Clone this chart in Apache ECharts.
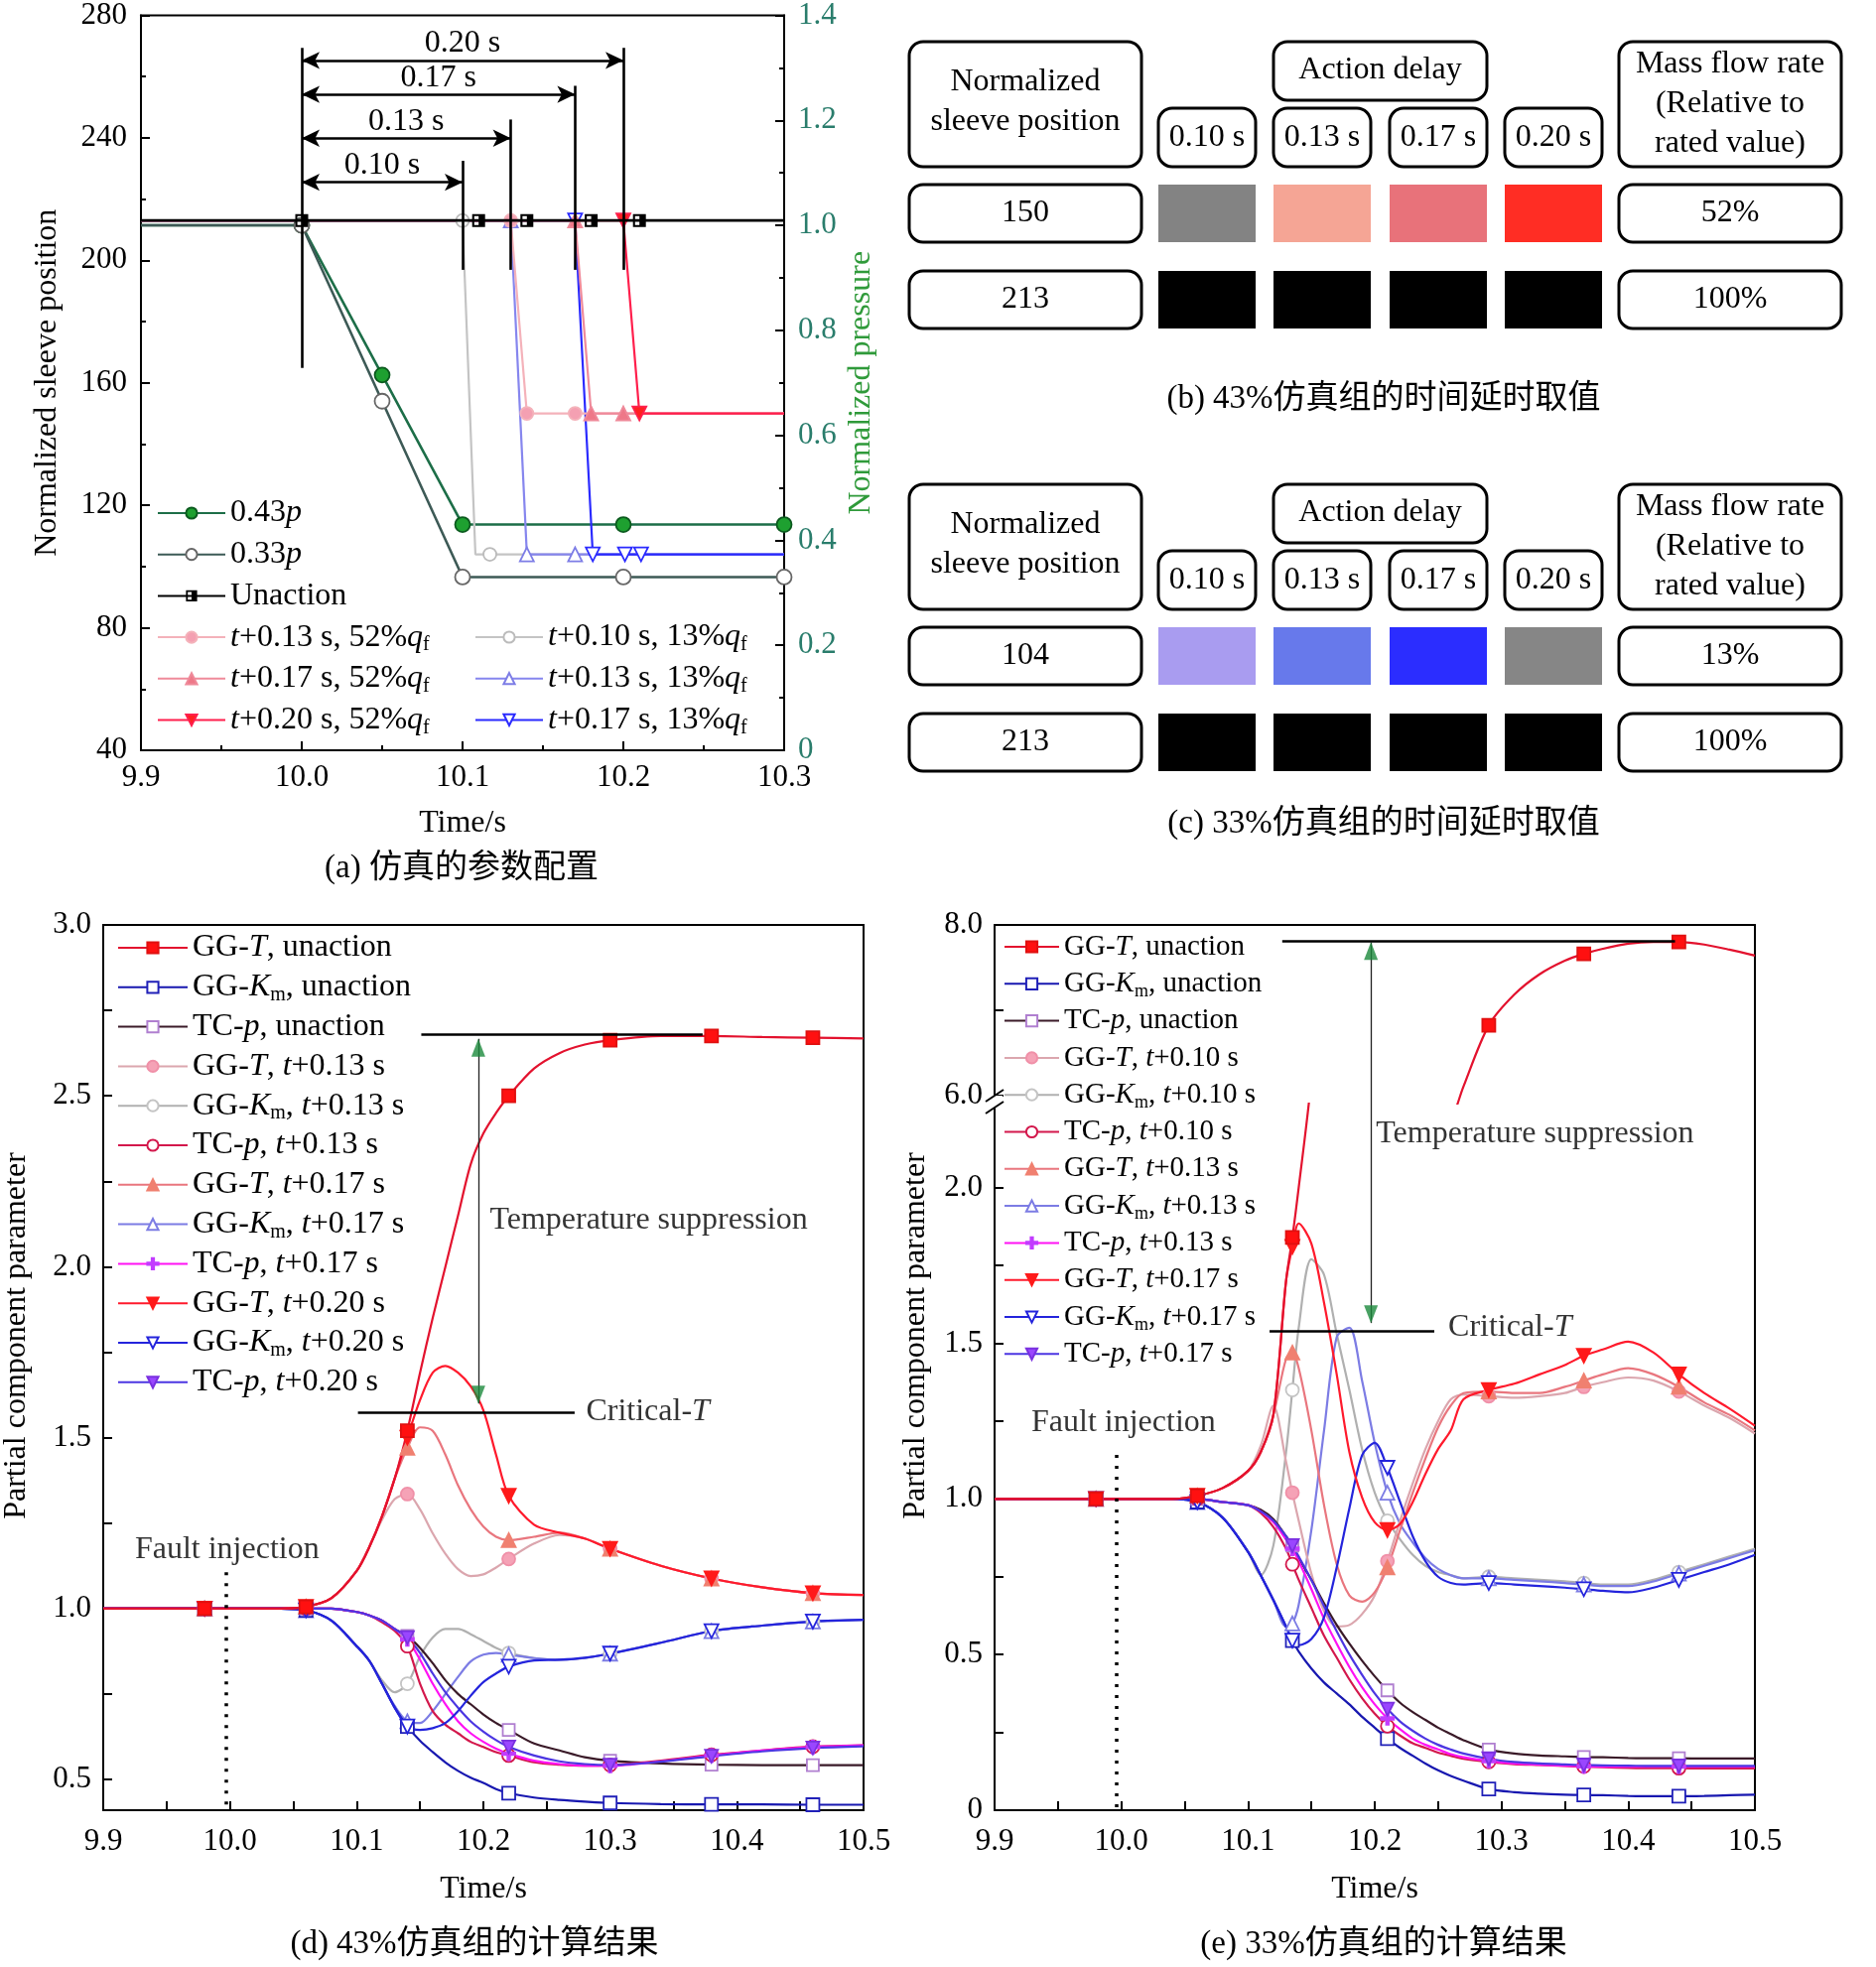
<!DOCTYPE html>
<html><head><meta charset="utf-8">
<script src="https://cdn.jsdelivr.net/npm/echarts@6/dist/echarts.min.js"></script>
<style>html,body{margin:0;padding:0;background:#fff;}.c{position:absolute;left:0;top:0;width:1890px;height:1982px;}</style>
</head><body>
<div id="ca" class="c"></div><div id="cb" class="c"></div><div id="cd" class="c"></div><div id="ce" class="c"></div>
<script>
const FONT = '"Liberation Serif","Times New Roman",serif';
const CAPF = '"Liberation Serif","Noto Sans CJK SC",serif';
const FS = 31;

// ================= Panel (a) data =================
const aPressTime = [9.9, 10.0, 10.05, 10.1, 10.2, 10.3];
const aP043 = [1, 1, 0.715, 0.43, 0.43, 0.43];
const aP033 = [1, 1, 0.665, 0.33, 0.33, 0.33];
const aUnactTime = [9.9, 10.0, 10.11, 10.14, 10.18, 10.21, 10.3];
const aUnactPos = [213, 213, 213, 213, 213, 213, 213];
const aUnactMarks = [10.0, 10.11, 10.14, 10.18, 10.21];
const a52_13_t = [9.9, 10.13, 10.14, 10.17, 10.3];
const a52_13_v = [213, 213, 150, 150, 150];
const a52_13_m = [10.13, 10.14, 10.17];
const a52_17_t = [9.9, 10.17, 10.18, 10.2, 10.3];
const a52_17_v = [213, 213, 150, 150, 150];
const a52_17_m = [10.17, 10.18, 10.2];
const a52_20_t = [9.9, 10.2, 10.21, 10.3];
const a52_20_v = [213, 213, 150, 150];
const a52_20_m = [10.2, 10.21];
const a13_10_t = [9.9, 10.1, 10.108, 10.117, 10.3];
const a13_10_v = [213, 213, 104, 104, 104];
const a13_10_m = [10.1, 10.117];
const a13_13_t = [9.9, 10.13, 10.14, 10.17, 10.3];
const a13_13_v = [213, 213, 104, 104, 104];
const a13_13_m = [10.13, 10.14, 10.17];
const a13_17_t = [9.9, 10.17, 10.181, 10.201, 10.211, 10.3];
const a13_17_v = [213, 213, 104, 104, 104, 104];
const a13_17_m = [10.17, 10.181, 10.201, 10.211];
const aPressMarks = [10.0, 10.05, 10.1, 10.2, 10.3];
const aDelays = [0.10, 0.13, 0.17, 0.20];
const aDelayLabels = ['0.10 s', '0.13 s', '0.17 s', '0.20 s'];
const aDimArrowY = [225.5, 239.9, 254.2, 265.3];
const aDimTopY = [232.5, 246, 257, 269.4];
const aDimBaseY = 196.9;
const aStartLine = [10.0, 164.9, 269.4];

// ================= Panel (b)/(c) data =================
const tblDelays = ['0.10 s', '0.13 s', '0.17 s', '0.20 s'];
const tblB_pos = ['150', '213'];
const tblB_flow = ['52%', '100%'];
const tblB_colors = [['#838383', '#f5a595', '#e8727a', '#ff2d24'], ['#000000', '#000000', '#000000', '#000000']];
const tblC_pos = ['104', '213'];
const tblC_flow = ['13%', '100%'];
const tblC_colors = [['#a99cf0', '#6779eb', '#2b2dff', '#868686'], ['#000000', '#000000', '#000000', '#000000']];

// ================= Panel (d) data =================
const dTime = [9.90, 9.98, 10.04, 10.06, 10.08, 10.10, 10.11, 10.12, 10.13, 10.14, 10.15, 10.16, 10.17, 10.18, 10.19, 10.20, 10.21, 10.22, 10.24, 10.26, 10.28, 10.30, 10.34, 10.38, 10.42, 10.46, 10.50];
const dMarkTimes = [9.98, 10.06, 10.14, 10.22, 10.30, 10.38, 10.46];
const dGGT_un = [1,1,1,1.005,1.03,1.11,1.18,1.27,1.38,1.52,1.69,1.85,2.00,2.15,2.30,2.39,2.45,2.50,2.58,2.625,2.65,2.663,2.675,2.675,2.672,2.67,2.668];
const dGGK_un = [1,1,1,0.995,0.965,0.89,0.847,0.78,0.71,0.655,0.613,0.58,0.55,0.525,0.505,0.49,0.472,0.46,0.447,0.44,0.435,0.431,0.428,0.427,0.427,0.426,0.426];
const dTCp_un = [1,1,1,1,1,0.99,0.98,0.965,0.94,0.92,0.885,0.84,0.79,0.75,0.72,0.69,0.665,0.645,0.605,0.585,0.565,0.555,0.547,0.543,0.542,0.542,0.542];
const dGGT_13 = [1,1,1,1.005,1.03,1.11,1.18,1.26,1.32,1.335,1.29,1.22,1.16,1.115,1.095,1.10,1.12,1.145,1.19,1.215,1.205,1.175,1.125,1.088,1.062,1.045,1.04];
const dGGK_13 = [1,1,1,0.995,0.965,0.89,0.847,0.79,0.755,0.78,0.86,0.915,0.94,0.94,0.925,0.905,0.885,0.87,0.855,0.85,0.855,0.868,0.90,0.934,0.95,0.962,0.967];
const dTCp_13 = [1,1,1,1,1,0.99,0.98,0.96,0.935,0.89,0.78,0.70,0.66,0.635,0.61,0.595,0.58,0.57,0.55,0.543,0.54,0.542,0.555,0.572,0.585,0.596,0.60];
const dGGT_17 = [1,1,1,1.005,1.03,1.11,1.18,1.27,1.38,1.47,1.53,1.52,1.45,1.36,1.29,1.24,1.21,1.20,1.21,1.222,1.205,1.175,1.125,1.088,1.062,1.045,1.04];
const dGGK_17 = [1,1,1,0.995,0.965,0.89,0.847,0.78,0.715,0.67,0.665,0.70,0.75,0.80,0.845,0.865,0.87,0.865,0.855,0.85,0.855,0.868,0.90,0.934,0.95,0.962,0.967];
const dTCp_17 = [1,1,1,1,1,0.99,0.98,0.965,0.94,0.91,0.85,0.78,0.72,0.67,0.635,0.61,0.59,0.575,0.555,0.545,0.54,0.54,0.553,0.57,0.585,0.595,0.60];
const dGGT_20 = [1,1,1,1.005,1.03,1.11,1.18,1.27,1.38,1.50,1.61,1.69,1.71,1.69,1.65,1.58,1.45,1.33,1.245,1.222,1.205,1.175,1.125,1.088,1.062,1.045,1.04];
const dGGK_20 = [1,1,1,0.995,0.965,0.89,0.847,0.78,0.71,0.655,0.645,0.65,0.665,0.70,0.745,0.785,0.81,0.83,0.848,0.85,0.856,0.868,0.90,0.934,0.95,0.962,0.967];
const dTCp_20 = [1,1,1,1,1,0.99,0.98,0.965,0.94,0.915,0.87,0.81,0.755,0.71,0.67,0.64,0.615,0.595,0.57,0.553,0.545,0.542,0.552,0.568,0.582,0.592,0.597];
const dYLabels = [0.5, 1.0, 1.5, 2.0, 2.5, 3.0];
const dYTicks = [0.5, 0.75, 1.0, 1.25, 1.5, 1.75, 2.0, 2.25, 2.5, 2.75, 3.0];

// ================= Panel (e) data =================
const eTime = [9.90, 9.98, 10.04, 10.06, 10.08, 10.10, 10.11, 10.12, 10.13, 10.135, 10.14, 10.15, 10.16, 10.17, 10.18, 10.19, 10.20, 10.21, 10.22, 10.23, 10.24, 10.25, 10.26, 10.27, 10.29, 10.31, 10.33, 10.35, 10.365, 10.38, 10.40, 10.42, 10.44, 10.46, 10.48, 10.50];
const eMarkTimes = [9.98, 10.06, 10.135, 10.21, 10.29, 10.365, 10.44];
const eGGT_un = [1,1,1,1.01,1.035,1.09,1.15,1.27,1.70,1.84,2.0,2.35,2.9,3.4,3.85,4.25,4.6,4.9,5.1,5.3,5.45,5.58,5.70,6.10,6.82,7.18,7.42,7.58,7.66,7.72,7.78,7.80,7.80,7.77,7.71,7.64];
const eGGK_un = [1,1,1,0.99,0.94,0.83,0.755,0.675,0.59,0.545,0.51,0.455,0.41,0.375,0.34,0.30,0.265,0.23,0.20,0.175,0.15,0.128,0.11,0.095,0.068,0.058,0.053,0.05,0.049,0.048,0.046,0.045,0.045,0.046,0.048,0.05];
const eTCp_un = [1,1,1,1,0.99,0.98,0.965,0.935,0.88,0.85,0.81,0.74,0.665,0.595,0.535,0.48,0.43,0.385,0.345,0.315,0.29,0.265,0.245,0.225,0.195,0.182,0.176,0.173,0.171,0.17,0.168,0.167,0.167,0.166,0.166,0.166];
const eGGT_10 = [1,1,1,1.01,1.035,1.09,1.17,1.30,1.12,1.02,0.93,0.76,0.64,0.59,0.595,0.63,0.69,0.80,0.93,1.05,1.16,1.25,1.32,1.335,1.33,1.325,1.33,1.34,1.36,1.375,1.39,1.38,1.345,1.30,1.26,1.21];
const eGGK_10 = [1,1,1,0.99,0.94,0.83,0.755,0.85,1.15,1.35,1.55,1.77,1.72,1.53,1.35,1.16,1.02,0.93,0.87,0.82,0.785,0.765,0.755,0.745,0.75,0.745,0.74,0.735,0.73,0.725,0.725,0.74,0.765,0.79,0.815,0.84];
const eTCp_10 = [1,1,1,1,0.99,0.98,0.955,0.91,0.84,0.79,0.74,0.65,0.56,0.49,0.42,0.36,0.31,0.27,0.24,0.215,0.20,0.185,0.175,0.165,0.155,0.148,0.145,0.142,0.14,0.138,0.136,0.135,0.135,0.134,0.134,0.134];
const eGGT_13 = [1,1,1,1.01,1.035,1.09,1.15,1.27,1.45,1.47,1.42,1.22,0.98,0.79,0.69,0.67,0.70,0.78,0.90,1.02,1.13,1.23,1.30,1.34,1.345,1.34,1.34,1.36,1.38,1.40,1.42,1.40,1.36,1.31,1.27,1.22];
const eGGK_13 = [1,1,1,0.99,0.94,0.83,0.755,0.675,0.59,0.60,0.66,0.90,1.22,1.52,1.55,1.38,1.18,1.02,0.92,0.86,0.81,0.775,0.755,0.745,0.745,0.74,0.735,0.73,0.725,0.72,0.72,0.735,0.76,0.785,0.81,0.835];
const eTCp_13 = [1,1,1,1,0.99,0.98,0.96,0.925,0.87,0.84,0.80,0.71,0.615,0.535,0.46,0.395,0.34,0.295,0.26,0.23,0.21,0.195,0.18,0.17,0.158,0.15,0.146,0.143,0.141,0.14,0.14,0.14,0.14,0.14,0.14,0.14];
const eGGT_17 = [1,1,1,1.01,1.035,1.09,1.15,1.27,1.70,1.81,1.885,1.82,1.63,1.40,1.15,1.005,0.925,0.90,0.92,0.99,1.08,1.16,1.22,1.32,1.35,1.37,1.40,1.43,1.46,1.48,1.505,1.47,1.40,1.34,1.29,1.235];
const eGGK_17 = [1,1,1,0.99,0.94,0.83,0.755,0.675,0.59,0.545,0.53,0.55,0.62,0.78,0.97,1.14,1.18,1.10,0.99,0.88,0.80,0.75,0.73,0.725,0.73,0.725,0.72,0.715,0.71,0.705,0.70,0.715,0.74,0.765,0.79,0.82];
const eTCp_17 = [1,1,1,1,0.99,0.98,0.96,0.93,0.88,0.85,0.815,0.74,0.655,0.575,0.50,0.435,0.375,0.325,0.285,0.255,0.23,0.21,0.195,0.182,0.165,0.155,0.15,0.147,0.145,0.144,0.143,0.142,0.142,0.142,0.142,0.142];
const eUpperLabels = [6.0, 8.0];
const eUpperTicks = [6.0, 7.0, 8.0];
const eLowerLabels = [0, 0.5, 1.0, 1.5, 2.0];
const eLowerTicks = [0, 0.25, 0.5, 0.75, 1.0, 1.25, 1.5, 1.75, 2.0];

// ================= helpers =================
const DOWN = 'path://M0,0L10,0L5,9Z';
const PLUS = 'path://M4,0H6V4H10V6H6V10H4V6H0V4H4Z';
const HALFSQ = 'path://M0,0H10V10H0Z M1.6,1.6V8.4H5V1.6Z';
function near(list, x) { return list.some(m => Math.abs(m - x) < 1e-6); }
function pairs(t, v) { return t.map((x, i) => [x, v[i]]); }
function richName(n) {
  return n.replace('Km', '{i|K}{sub|m}').replace(/-T\b/, '-{i|T}').replace(/-p\b/, '-{i|p}')
    .replace(/(^|\s)t\+/, '$1{i|t}+').replace('qf', '{i|q}{sub|f}').replace(/(\d)p$/, '$1{i|p}');
}
function richStyles(fs, lh) {
  return {
    i: { fontFamily: FONT, fontSize: fs, lineHeight: lh, fontStyle: 'italic', color: '#000' },
    sub: { fontFamily: FONT, fontSize: Math.round(fs * 0.62), lineHeight: 20, verticalAlign: 'bottom', color: '#000' }
  };
}
function legendCfg(names, left, top, itemW, fs, lh, gap) {
  return {
    data: names, orient: 'vertical', left, top, itemWidth: itemW, itemHeight: 14, itemGap: gap,
    selectedMode: false, formatter: n => richName(n), padding: 0,
    textStyle: { fontFamily: FONT, fontSize: fs, lineHeight: lh, color: '#000', rich: richStyles(fs, lh) }
  };
}
function lineSer(name, data, marks, st, extra) {
  const size = st.size || 14;
  return Object.assign({
    name, type: 'line', data, color: st.color,
    symbol: st.sym, symbolKeepAspect: false,
    symbolSize: (val) => {
      if (!near(marks, val[0])) return 0;
      if (st.vmin !== undefined && val[1] < st.vmin) return 0;
      if (st.vmax !== undefined && val[1] > st.vmax) return 0;
      return size;
    },
    showSymbol: true, showAllSymbol: true,
    lineStyle: { color: st.color, width: st.w || 2.2 },
    itemStyle: { color: st.fill || '#fff', borderColor: st.border || st.color, borderWidth: st.bw === undefined ? 1.8 : st.bw },
    smooth: st.smooth || false, animation: false, silent: true, clip: true, z: st.z || 3
  }, extra || {});
}
function axisBase() {
  return {
    axisLine: { show: true, onZero: false, lineStyle: { color: '#000', width: 2 } },
    axisTick: { show: true, inside: true, length: 9, lineStyle: { color: '#000', width: 2 } },
    splitLine: { show: false },
    axisLabel: { fontFamily: FONT, fontSize: FS, color: '#000' },
    nameTextStyle: { fontFamily: FONT, fontSize: 32, color: '#000' }
  };
}
function segs(list) { return list.map(s => [{ coord: [s[0], s[1]] }, { coord: [s[2], s[3]] }]); }
function gText(text, x, y, rot, fs, font) {
  return { type: 'text', x, y, rotation: rot || 0, silent: true,
    style: { text, fontFamily: font || FONT, fontSize: fs || 32, fill: '#000', align: 'center', verticalAlign: 'middle' } };
}

// ================= Chart (a) =================
const aNames1 = ['0.43p', '0.33p', 'Unaction', 't+0.13 s, 52%qf', 't+0.17 s, 52%qf', 't+0.20 s, 52%qf'];
const aNames2 = ['t+0.10 s, 13%qf', 't+0.13 s, 13%qf', 't+0.17 s, 13%qf'];
const chartA = echarts.init(document.getElementById('ca'));
const dimArrows = aDelays.map((d, i) => [
  { coord: [10.0, aDimArrowY[i]], label: { show: true, formatter: aDelayLabels[i], position: 'insideMiddleTop', distance: 1, fontFamily: FONT, fontSize: 32, color: '#000' } },
  { coord: [10.0 + d, aDimArrowY[i]] }
]);
const dimVerticals = [[aStartLine[0], aStartLine[1], aStartLine[0], aStartLine[2]]]
  .concat(aDelays.map((d, i) => [10.0 + d, aDimBaseY, 10.0 + d, aDimTopY[i]]));
chartA.setOption({
  animation: false,
  grid: { left: 142, top: 15, width: 648, height: 741, show: true, borderColor: '#000', borderWidth: 2, backgroundColor: 'transparent' },
  xAxis: Object.assign(axisBase(), {
    type: 'value', min: 9.9, max: 10.3, interval: 0.1, name: 'Time/s', nameLocation: 'middle', nameGap: 58,
    minorTick: { show: true, splitNumber: 2, length: 5, lineStyle: { color: '#000', width: 2 } },
    axisLabel: { fontFamily: FONT, fontSize: FS, color: '#000', margin: 12, formatter: v => v.toFixed(1) }
  }),
  yAxis: [
    Object.assign(axisBase(), {
      type: 'value', min: 40, max: 280, interval: 40, name: 'Normalized sleeve position', nameLocation: 'middle', nameGap: 78,
      minorTick: { show: true, splitNumber: 2, length: 5, lineStyle: { color: '#000', width: 2 } },
      axisLabel: { fontFamily: FONT, fontSize: FS, color: '#000', margin: 14 }
    }),
    Object.assign(axisBase(), {
      type: 'value', position: 'right', min: 0, max: 1.4, interval: 0.2, name: 'Normalized pressure', nameLocation: 'middle', nameGap: 62, nameRotate: 90,
      nameTextStyle: { fontFamily: FONT, fontSize: 32, color: '#2f9a3a' },
      minorTick: { show: true, splitNumber: 2, length: 5, lineStyle: { color: '#000', width: 2 } },
      axisLabel: { fontFamily: FONT, fontSize: FS, color: '#2a7d6c', margin: 14, formatter: v => v === 0 ? '0' : v.toFixed(1) }
    })
  ],
  legend: [legendCfg(aNames1, 158, 499, 68, 32, 36, 5.7), legendCfg(aNames2, 478, 624, 68, 32, 36, 5.7)],
  graphic: [gText('(a) 仿真的参数配置', 465, 875, 0, 33, CAPF)],
  series: [
    lineSer('0.43p', pairs(aPressTime, aP043), aPressMarks, { color: '#1d6e48', fill: '#1ea030', border: '#0b5a1e', sym: 'circle', size: 15, w: 2.6 }, { yAxisIndex: 1 }),
    lineSer('0.33p', pairs(aPressTime, aP033), aPressMarks, { color: '#3d5a56', fill: '#ffffff', border: '#666', sym: 'circle', size: 15, w: 2.6 }, { yAxisIndex: 1 }),
    lineSer('t+0.10 s, 13%qf', pairs(a13_10_t, a13_10_v), a13_10_m, { color: '#c4c4c4', fill: '#fff', border: '#bbbbbb', sym: 'circle', size: 13 }),
    lineSer('t+0.13 s, 13%qf', pairs(a13_13_t, a13_13_v), a13_13_m, { color: '#8686ee', fill: '#fff', border: '#7d7de6', sym: 'triangle', size: 14 }),
    lineSer('t+0.17 s, 13%qf', pairs(a13_17_t, a13_17_v), a13_17_m, { color: '#2a2aff', fill: '#fff', border: '#2a2aff', sym: DOWN, size: 14 }),
    lineSer('t+0.13 s, 52%qf', pairs(a52_13_t, a52_13_v), a52_13_m, { color: '#f4b2ba', fill: '#f4a0b2', sym: 'circle', size: 13 }),
    lineSer('t+0.17 s, 52%qf', pairs(a52_17_t, a52_17_v), a52_17_m, { color: '#ef8a9a', fill: '#ee7888', sym: 'triangle', size: 14 }),
    lineSer('t+0.20 s, 52%qf', pairs(a52_20_t, a52_20_v), a52_20_m, { color: '#ff1f4c', fill: '#ff2020', sym: DOWN, size: 14 }),
    lineSer('Unaction', pairs(aUnactTime, aUnactPos), aUnactMarks, { color: '#000000', fill: '#000000', border: '#000', bw: 0, sym: HALFSQ, size: 13, w: 2.8, z: 4 }),
    { type: 'line', data: [], silent: true, z: 6,
      markLine: { silent: true, animation: false, symbol: ['arrow', 'arrow'], symbolSize: [13, 18], label: { show: false },
        lineStyle: { color: '#000', width: 2.6, type: 'solid' }, data: dimArrows } },
    { type: 'line', data: [], silent: true, z: 6,
      markLine: { silent: true, animation: false, symbol: 'none', label: { show: false },
        lineStyle: { color: '#000', width: 2.6, type: 'solid' }, data: segs(dimVerticals) } }
  ]
});

// ================= Chart (b)/(c) tables =================
const colX = [[916, 1150], [1167, 1265], [1283, 1381], [1400, 1498], [1516, 1614], [1631, 1855]];
function tableGraphics(y0, posVals, flowVals, colors) {
  const g = [];
  const box = (x1, x2, y1, y2) => g.push({ type: 'rect', silent: true, shape: { x: x1, y: y1, width: x2 - x1, height: y2 - y1, r: 14 },
    style: { fill: 'transparent', stroke: '#000', lineWidth: 3 } });
  const txt = (t, x, y) => g.push({ type: 'text', x, y, silent: true,
    style: { text: t, fontFamily: FONT, fontSize: 32, lineHeight: 40, fill: '#000', align: 'center', verticalAlign: 'middle' } });
  const cx = c => (colX[c][0] + colX[c][1]) / 2;
  box(colX[0][0], colX[0][1], y0, y0 + 126); txt('Normalized\nsleeve position', cx(0), y0 + 61);
  box(colX[5][0], colX[5][1], y0, y0 + 126); txt('Mass flow rate\n(Relative to\nrated value)', cx(5), y0 + 63);
  box(colX[2][0], colX[3][1], y0, y0 + 59); txt('Action delay', (colX[2][0] + colX[3][1]) / 2, y0 + 29);
  tblDelays.forEach((d, i) => { box(colX[i + 1][0], colX[i + 1][1], y0 + 67, y0 + 126); txt(d, cx(i + 1), y0 + 97); });
  const rows = [[y0 + 144, y0 + 202], [y0 + 231, y0 + 289]];
  rows.forEach((r, ri) => {
    box(colX[0][0], colX[0][1], r[0], r[1]); txt(posVals[ri], cx(0), (r[0] + r[1]) / 2);
    box(colX[5][0], colX[5][1], r[0], r[1]); txt(flowVals[ri], cx(5), (r[0] + r[1]) / 2);
    colors[ri].forEach((c, ci) => g.push({ type: 'rect', silent: true,
      shape: { x: colX[ci + 1][0], y: r[0], width: colX[ci + 1][1] - colX[ci + 1][0], height: r[1] - r[0] }, style: { fill: c } }));
  });
  return g;
}
const chartB = echarts.init(document.getElementById('cb'));
chartB.setOption({
  animation: false,
  graphic: tableGraphics(42, tblB_pos, tblB_flow, tblB_colors)
    .concat(tableGraphics(488, tblC_pos, tblC_flow, tblC_colors))
    .concat([gText('(b) 43%仿真组的时间延时取值', 1394, 402, 0, 33, CAPF), gText('(c) 33%仿真组的时间延时取值', 1394, 830, 0, 33, CAPF)])
});

// ================= series styles for (d) / (e) =================
const stGGT_un = { color: '#e3122e', fill: '#ff1010', border: '#e01010', sym: 'rect', size: 13 };
const stGGK_un = { color: '#1818b0', fill: '#fff', border: '#2020b8', sym: 'rect', size: 13 };
const stTCp_un = { color: '#3a1a28', fill: '#fff', border: '#b07fd0', sym: 'rect', size: 12 };
const stA_GGT = { color: '#dba6ae', fill: '#f5a2b6', border: '#f090a8', sym: 'circle', size: 13 };
const stA_GGK = { color: '#b0b0b0', fill: '#fff', border: '#c4c4c4', sym: 'circle', size: 13 };
const stA_TCp = { color: '#d3184c', fill: '#fff', border: '#d3184c', sym: 'circle', size: 13 };
const stB_GGT = { color: '#e9767e', fill: '#f08070', border: '#f08070', sym: 'triangle', size: 14 };
const stB_GGK = { color: '#7c7ce4', fill: '#fff', border: '#7c7ce4', sym: 'triangle', size: 14 };
const stB_TCp = { color: '#ff12f4', fill: '#c23cff', border: '#c23cff', sym: PLUS, size: 13 };
const stC_GGT = { color: '#ff1a2c', fill: '#ff1a1a', border: '#ff1a1a', sym: DOWN, size: 14 };
const stC_GGK = { color: '#2424dc', fill: '#fff', border: '#2424dc', sym: DOWN, size: 14 };
const stC_TCp = { color: '#4c36e2', fill: '#9a46ff', border: '#7a30e0', sym: DOWN, size: 13 };
function sm(st, extra) { return Object.assign({ smooth: 0.3 }, st, extra || {}); }

// ================= Chart (d) =================
const dNames = ['GG-T, unaction', 'GG-Km, unaction', 'TC-p, unaction', 'GG-T, t+0.13 s', 'GG-Km, t+0.13 s', 'TC-p, t+0.13 s',
  'GG-T, t+0.17 s', 'GG-Km, t+0.17 s', 'TC-p, t+0.17 s', 'GG-T, t+0.20 s', 'GG-Km, t+0.20 s', 'TC-p, t+0.20 s'];
const dVals = [dGGT_un, dGGK_un, dTCp_un, dGGT_13, dGGK_13, dTCp_13, dGGT_17, dGGK_17, dTCp_17, dGGT_20, dGGK_20, dTCp_20];
const dStyles = [stGGT_un, stGGK_un, stTCp_un, stA_GGT, stA_GGK, stA_TCp, stB_GGT, stB_GGK, stB_TCp, stC_GGT, stC_GGK, stC_TCp];
const dDrawOrder = [4, 3, 7, 6, 1, 2, 5, 8, 11, 10, 9, 0];
const dSuppress = [10.151, 2.681, 10.373, 2.681];
const dCritical = [10.101, 1.575, 10.272, 1.575];
const dArrow = [10.196, 2.667, 10.196, 1.60];
const dFault = [9.997, 1.106, 9.997, 0.41];
const dTexts = [[10.205, 2.135, 'Temperature suppression'], [10.281, 1.575, 'Critical-{i|T}'], [9.925, 1.172, 'Fault injection']];
const chartD = echarts.init(document.getElementById('cd'));
chartD.setOption({
  animation: false,
  grid: { left: 104, top: 932, width: 766, height: 892, show: true, borderColor: '#000', borderWidth: 2, backgroundColor: 'transparent' },
  xAxis: Object.assign(axisBase(), {
    type: 'value', min: 9.9, max: 10.5, interval: 0.1, name: 'Time/s', nameLocation: 'middle', nameGap: 64,
    minorTick: { show: true, splitNumber: 2, length: 9, lineStyle: { color: '#000', width: 2 } },
    axisLabel: { fontFamily: FONT, fontSize: FS, color: '#000', margin: 16, formatter: v => v.toFixed(1) }
  }),
  yAxis: Object.assign(axisBase(), {
    type: 'value', min: 0.41, max: 3.0,
    axisTick: { show: true, inside: true, length: 9, customValues: dYTicks, lineStyle: { color: '#000', width: 2 } },
    axisLabel: { fontFamily: FONT, fontSize: FS, color: '#000', margin: 12, customValues: dYLabels, formatter: v => v.toFixed(1) }
  }),
  legend: legendCfg(dNames, 118, 937, 70, 32, 36, 3.8),
  graphic: [gText('Partial component parameter', 17, 1346, Math.PI / 2, 32), gText('(d) 43%仿真组的计算结果', 478, 1959, 0, 33, CAPF)],
  series: dDrawOrder.map(k => lineSer(dNames[k], pairs(dTime, dVals[k]), dMarkTimes, sm(dStyles[k]))).concat([
    { type: 'line', data: [], silent: true, z: 7,
      markLine: { silent: true, animation: false, symbol: 'none', label: { show: false }, lineStyle: { color: '#000', width: 2.6, type: 'solid' },
        data: segs([dSuppress, dCritical]) } },
    { type: 'line', data: [], silent: true, z: 7,
      markLine: { silent: true, animation: false, symbol: 'none', label: { show: false }, lineStyle: { color: '#222', width: 1.3, type: 'solid' },
        data: segs([dArrow]) } },
    { type: 'line', data: [], silent: true, z: 7,
      markLine: { silent: true, animation: false, symbol: 'none', label: { show: false }, lineStyle: { color: '#000', width: 3.5, type: [3, 8] },
        data: segs([dFault]) } },
    { type: 'scatter', silent: true, z: 8, symbolSize: [14, 18], itemStyle: { color: '#1c8a3c' },
      data: [{ value: [dArrow[0], dArrow[1]], symbol: 'triangle', symbolOffset: [0, 9] }, { value: [dArrow[2], dArrow[3]], symbol: DOWN, symbolOffset: [0, -9] }] },
    { type: 'scatter', silent: true, z: 8, symbolSize: 0,
      data: dTexts.map(t => ({ value: [t[0], t[1]], label: { show: true, position: 'right', distance: 0, formatter: t[2],
        fontFamily: FONT, fontSize: 32, color: '#000', rich: richStyles(32, 36) } })) }
  ])
});

// ================= Chart (e) =================
const eNames = ['GG-T, unaction', 'GG-Km, unaction', 'TC-p, unaction', 'GG-T, t+0.10 s', 'GG-Km, t+0.10 s', 'TC-p, t+0.10 s',
  'GG-T, t+0.13 s', 'GG-Km, t+0.13 s', 'TC-p, t+0.13 s', 'GG-T, t+0.17 s', 'GG-Km, t+0.17 s', 'TC-p, t+0.17 s'];
const eVals = [eGGT_un, eGGK_un, eTCp_un, eGGT_10, eGGK_10, eTCp_10, eGGT_13, eGGK_13, eTCp_13, eGGT_17, eGGK_17, eTCp_17];
const eStyles = [stGGT_un, stGGK_un, stTCp_un, stA_GGT, stA_GGK, stA_TCp, stB_GGT, stB_GGK, stB_TCp, stC_GGT, stC_GGK, stC_TCp];
const eDrawOrder = [4, 7, 3, 6, 1, 2, 5, 8, 11, 10, 9, 0];
const eSuppressTop = [10.127, 7.81, 10.437, 7.81];
const eArrowUpper = [10.197, 7.80, 10.197, 5.9];
const eArrowLower = [10.197, 2.27, 10.197, 1.565];
const eCritical = [10.117, 1.54, 10.247, 1.54];
const eFault = [9.996, 1.141, 9.996, 0.0];
const eTexts = [[10.201, 2.173, 'Temperature suppression'], [10.258, 1.55, 'Critical-{i|T}'], [9.929, 1.246, 'Fault injection']];
const chartE = echarts.init(document.getElementById('ce'));
const eLower = { xAxisIndex: 1, yAxisIndex: 2 };
chartE.setOption({
  animation: false,
  grid: [{ left: 1002, top: 932, width: 766, height: 180 }, { left: 1002, top: 1112, width: 766, height: 712 }],
  xAxis: [
    Object.assign(axisBase(), { gridIndex: 0, type: 'value', position: 'top', min: 9.9, max: 10.5, interval: 0.1,
      axisTick: { show: false }, axisLabel: { show: false } }),
    Object.assign(axisBase(), { gridIndex: 1, type: 'value', min: 9.9, max: 10.5, interval: 0.1, name: 'Time/s', nameLocation: 'middle', nameGap: 64,
      minorTick: { show: true, splitNumber: 2, length: 9, lineStyle: { color: '#000', width: 2 } },
      axisLabel: { fontFamily: FONT, fontSize: FS, color: '#000', margin: 16, formatter: v => v.toFixed(1) } })
  ],
  yAxis: [
    Object.assign(axisBase(), { gridIndex: 0, type: 'value', min: 5.9, max: 8.0,
      axisTick: { show: true, inside: true, length: 9, customValues: eUpperTicks, lineStyle: { color: '#000', width: 2 } },
      axisLabel: { fontFamily: FONT, fontSize: FS, color: '#000', margin: 12, customValues: eUpperLabels, formatter: v => v.toFixed(1) } }),
    Object.assign(axisBase(), { gridIndex: 0, type: 'value', position: 'right', min: 5.9, max: 8.0, axisTick: { show: false }, axisLabel: { show: false } }),
    Object.assign(axisBase(), { gridIndex: 1, type: 'value', min: 0, max: 2.27,
      axisTick: { show: true, inside: true, length: 9, customValues: eLowerTicks, lineStyle: { color: '#000', width: 2 } },
      axisLabel: { fontFamily: FONT, fontSize: FS, color: '#000', margin: 12, customValues: eLowerLabels, formatter: v => v === 0 ? '0' : v.toFixed(1) } }),
    Object.assign(axisBase(), { gridIndex: 1, type: 'value', position: 'right', min: 0, max: 2.27, axisTick: { show: false }, axisLabel: { show: false } })
  ],
  legend: legendCfg(eNames, 1011, 937, 55, 29, 34, 3.3),
  graphic: [
    gText('Partial component parameter', 923, 1346, Math.PI / 2, 32),
    gText('(e) 33%仿真组的计算结果', 1394, 1959, 0, 33, CAPF),
    { type: 'rect', silent: true, shape: { x: 994, y: 1104, width: 16, height: 12 }, style: { fill: '#fff' }, z: 100 },
    { type: 'line', silent: true, shape: { x1: 993, y1: 1110, x2: 1011, y2: 1098 }, style: { stroke: '#000', lineWidth: 2 }, z: 101 },
    { type: 'line', silent: true, shape: { x1: 993, y1: 1122, x2: 1011, y2: 1110 }, style: { stroke: '#000', lineWidth: 2 }, z: 101 }
  ],
  series: eDrawOrder.map(k => lineSer(eNames[k], pairs(eTime, eVals[k]), eMarkTimes, sm(eStyles[k], { vmax: 2.27 }), eLower)).concat([
    lineSer(eNames[0], pairs(eTime, eVals[0]), eMarkTimes, sm(eStyles[0], { vmin: 5.9 }), { xAxisIndex: 0, yAxisIndex: 0 }),
    { type: 'line', data: [], silent: true, z: 7, xAxisIndex: 0, yAxisIndex: 0,
      markLine: { silent: true, animation: false, symbol: 'none', label: { show: false }, lineStyle: { color: '#000', width: 2.6, type: 'solid' },
        data: segs([eSuppressTop]) } },
    { type: 'line', data: [], silent: true, z: 7, xAxisIndex: 0, yAxisIndex: 0,
      markLine: { silent: true, animation: false, symbol: 'none', label: { show: false }, lineStyle: { color: '#222', width: 1.3, type: 'solid' },
        data: segs([eArrowUpper]) } },
    { type: 'line', data: [], silent: true, z: 7, ...eLower,
      markLine: { silent: true, animation: false, symbol: 'none', label: { show: false }, lineStyle: { color: '#222', width: 1.3, type: 'solid' },
        data: segs([eArrowLower]) } },
    { type: 'line', data: [], silent: true, z: 7, ...eLower,
      markLine: { silent: true, animation: false, symbol: 'none', label: { show: false }, lineStyle: { color: '#000', width: 2.6, type: 'solid' },
        data: segs([eCritical]) } },
    { type: 'line', data: [], silent: true, z: 7, ...eLower,
      markLine: { silent: true, animation: false, symbol: 'none', label: { show: false }, lineStyle: { color: '#000', width: 3.5, type: [3, 8] },
        data: segs([eFault]) } },
    { type: 'scatter', silent: true, z: 8, xAxisIndex: 0, yAxisIndex: 0, symbolSize: [14, 18], itemStyle: { color: '#1c8a3c' },
      data: [{ value: [eArrowUpper[0], eArrowUpper[1]], symbol: 'triangle', symbolOffset: [0, 9] }] },
    { type: 'scatter', silent: true, z: 8, ...eLower, symbolSize: [14, 18], itemStyle: { color: '#1c8a3c' },
      data: [{ value: [eArrowLower[2], eArrowLower[3]], symbol: DOWN, symbolOffset: [0, -9] }] },
    { type: 'scatter', silent: true, z: 8, ...eLower, symbolSize: 0,
      data: eTexts.map(t => ({ value: [t[0], t[1]], label: { show: true, position: 'right', distance: 0, formatter: t[2],
        fontFamily: FONT, fontSize: 32, color: '#000', rich: richStyles(32, 36) } })) }
  ])
});
</script></body></html>
